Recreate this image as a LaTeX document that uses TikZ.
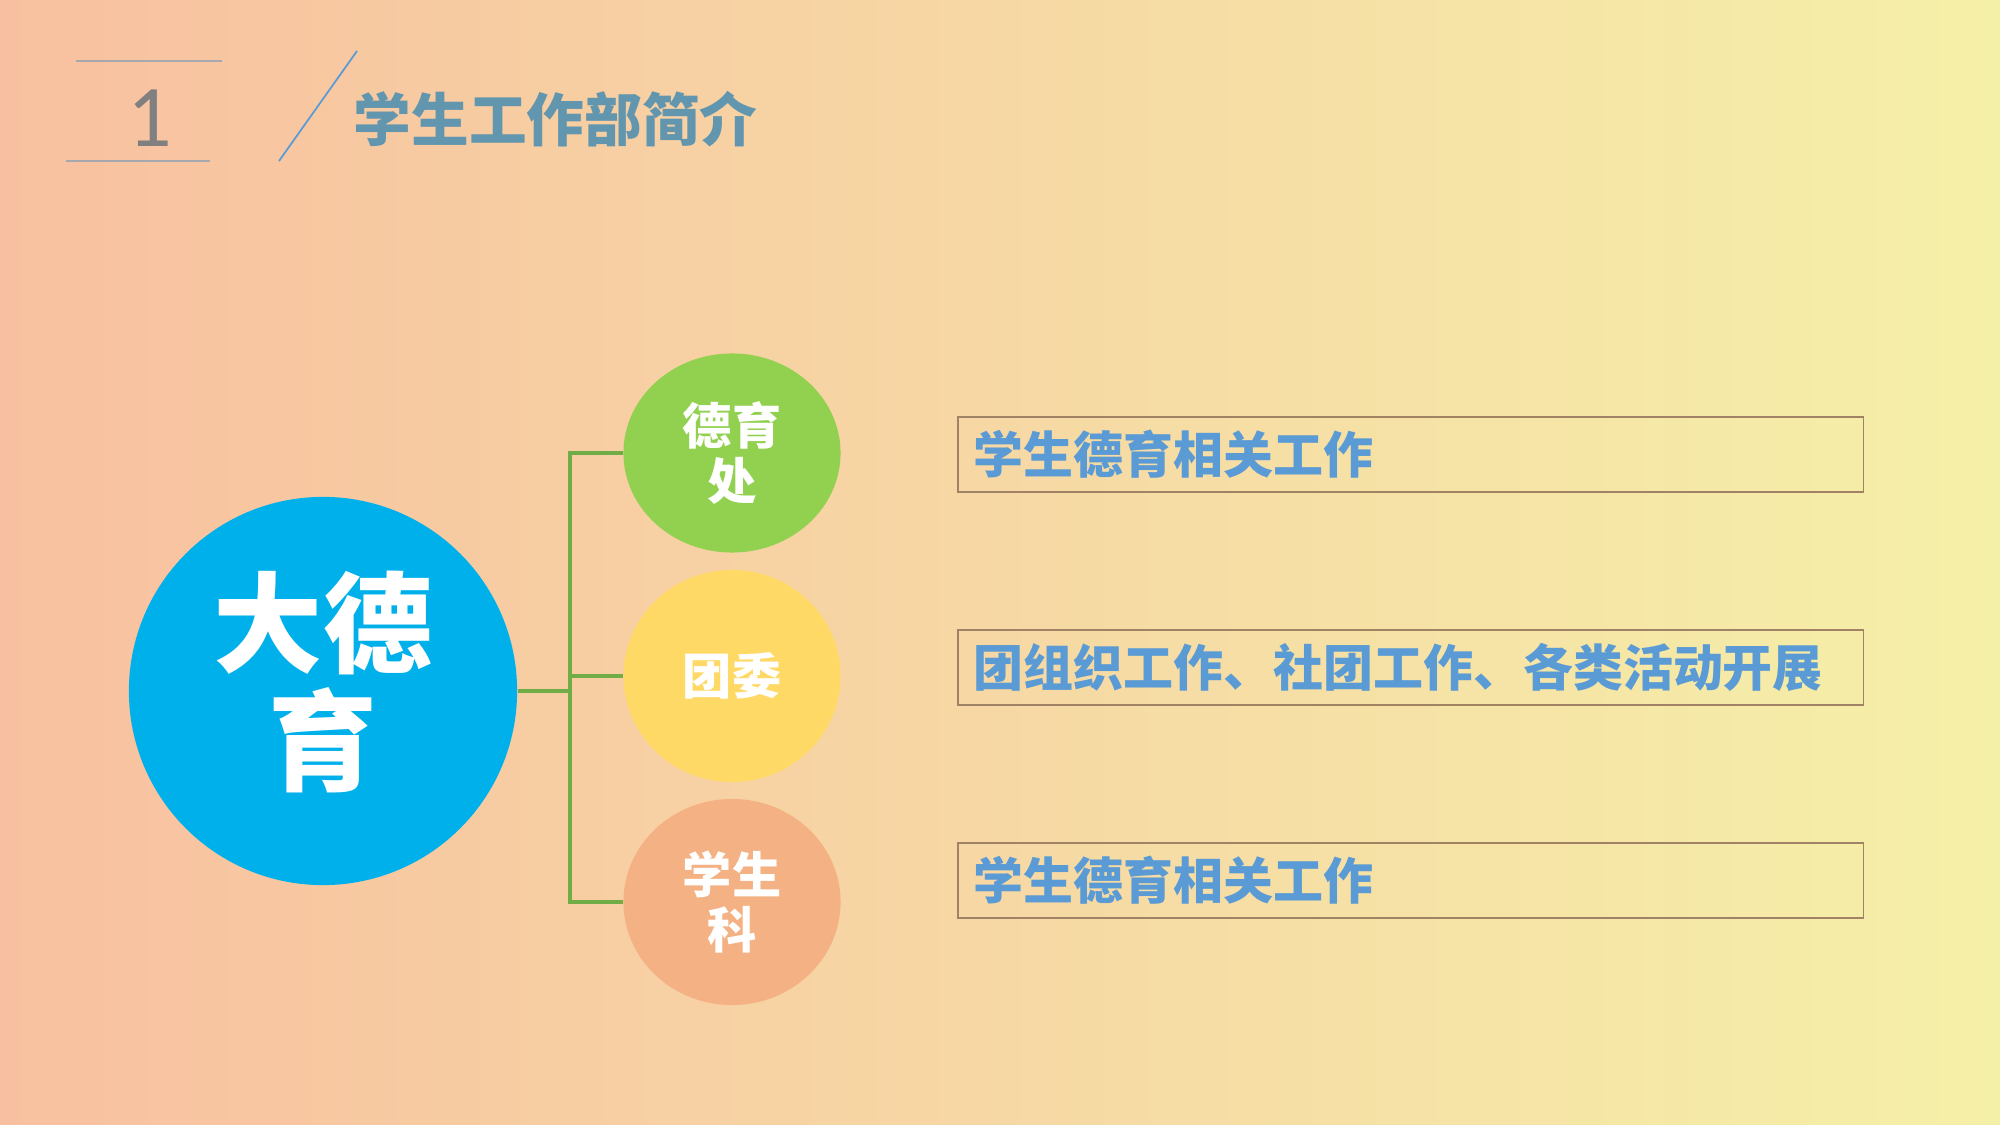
\documentclass[tikz,border=0pt]{standalone}
\usepackage{fontspec}
\newfontfamily\cjk{Noto Sans CJK SC}
\newfontfamily\numfont{Carlito}
\usetikzlibrary{positioning,shapes.geometric}
\definecolor{bgleft}{RGB}{248,192,160}
\definecolor{bgmid}{RGB}{247,212,162}
\definecolor{bgright}{RGB}{245,240,168}
\definecolor{titleblue}{RGB}{98,150,175}
\definecolor{textblue}{RGB}{91,155,213}
\definecolor{bigblue}{RGB}{0,176,234}
\definecolor{leafgreen}{RGB}{146,208,80}
\definecolor{leafyellow}{RGB}{255,217,102}
\definecolor{leafsalmon}{RGB}{244,177,131}
\definecolor{linegreen}{RGB}{112,173,71}
\definecolor{boxline}{RGB}{160,130,100}
\definecolor{ruleline}{RGB}{165,168,175}
\tikzset{
	leaf/.style={ellipse, inner sep=0pt, minimum width=2.17cm, text=white, align=center, font=\cjk\bfseries\fontsize{14}{15.6}\selectfont},
	desc/.style={draw=boxline, line width=0.5pt, text width=8.73cm, inner xsep=0.16cm, inner ysep=0pt, minimum height=0.75cm, align=left, anchor=west, text=textblue, font=\cjk\bfseries\fontsize{14.2}{16}\selectfont},
	rule/.style={draw=ruleline, line width=0.6pt}
}
\begin{document}
\begin{tikzpicture}[x=0.01cm, y=-0.01cm]
		\shade[left color=bgleft, middle color=bgmid, right color=bgright] (0,0) rectangle (2000,1125);
		\useasboundingbox (0,0) rectangle (2000,1125);
		
		\coordinate (r1a) at (76,61);
		\coordinate (r1b) at (222,61);
		\coordinate (r2a) at (66,161);
		\coordinate (r2b) at (210,161);
		\draw[rule] (r1a) -- (r1b);
		\draw[rule] (r2a) -- (r2b);
		\node(num) at (150,118) [text=gray, font=\numfont\fontsize{25}{28}\selectfont] {1};
		\coordinate (s1) at (279,161);
		\coordinate (s2) at (357,51);
		\draw[textblue, line width=0.5pt] (s1) -- (s2);
		\node(title) at (353,119) [anchor=west, inner sep=0pt, text=titleblue, font=\cjk\bfseries\fontsize{16.4}{18}\selectfont] {学生工作部简介};
		
		\node(big) at (323,691) [circle, fill=bigblue, minimum size=3.88cm, inner sep=0pt, text=white, align=center, text depth=8pt, font=\cjk\bfseries\fontsize{31}{33.5}\selectfont] {大德\\育};
		
		\node(dyc) at (732,453) [leaf, fill=leafgreen, minimum height=1.99cm] {德育\\处};
		\node(tw) at (732,676) [leaf, fill=leafyellow, minimum height=2.12cm] {团委};
		\node(xsk) at (732,902) [leaf, fill=leafsalmon, minimum height=2.06cm] {学生\\科};
		
		\coordinate (fork) at (570,691);
		\draw[linegreen, line width=1pt] (big) -- (fork);
		\draw[linegreen, line width=1pt] (fork) |- (dyc);
		\draw[linegreen, line width=1pt] (fork) |- (xsk);
		\draw[linegreen, line width=1pt] (tw) -- (tw -| fork);
		
		\node(d1) at (957,454.5) [desc] {学生德育相关工作};
		\node(d2) at (957,667.5) [desc] {团组织工作、社团工作、各类活动开展};
		\node(d3) at (957,880.5) [desc] {学生德育相关工作};
		
		\end{tikzpicture}
\end{document}
